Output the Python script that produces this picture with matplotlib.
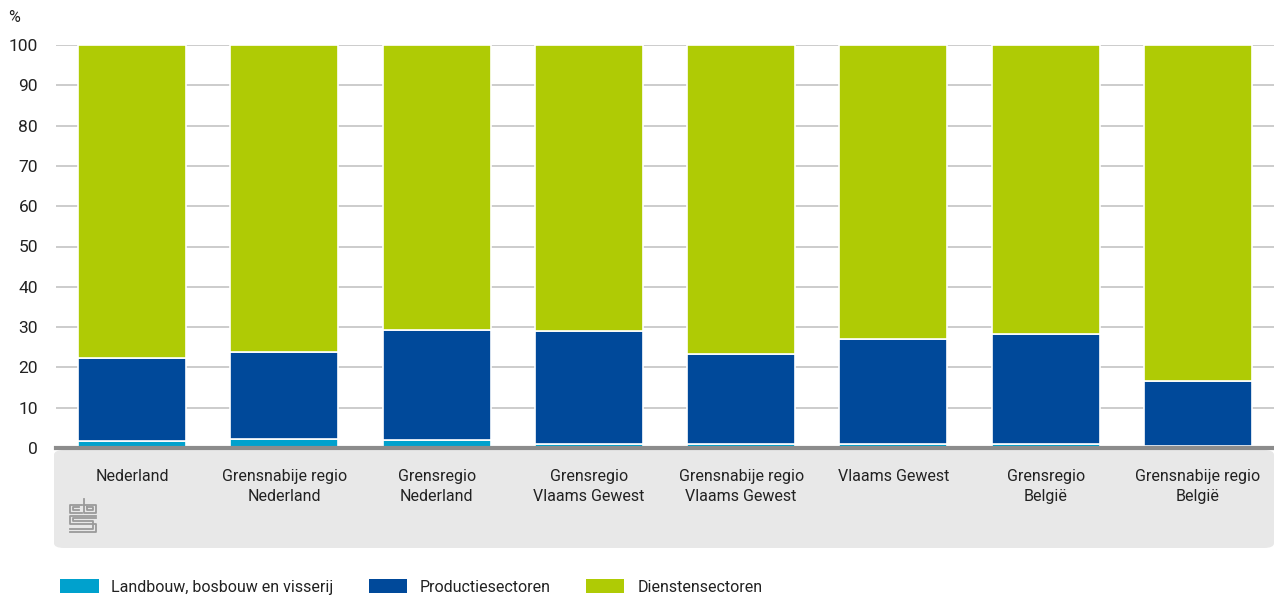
import matplotlib.pyplot as plt
from matplotlib.patches import FancyBboxPatch
import numpy as np

categories = ["Nederland", "Grensnabije regio\nNederland", "Grensregio\nNederland",
              "Grensregio\nVlaams Gewest", "Grensnabije regio\nVlaams Gewest",
              "Vlaams Gewest", "Grensregio\nBelgië", "Grensnabije regio\nBelgië"]
landbouw = [1.7, 2.2, 2.1, 0.9, 0.9, 0.9, 0.9, 0.4]
productie = [20.7, 21.5, 27.3, 28.1, 22.4, 26.1, 27.5, 16.3]
diensten = [100 - a - b for a, b in zip(landbouw, productie)]
series_names = ["Landbouw, bosbouw en visserij", "Productiesectoren", "Dienstensectoren"]
colors = ["#00a1cd", "#00499a", "#afcb05"]
yticks = [0, 10, 20, 30, 40, 50, 60, 70, 80, 90, 100]

plt.rcParams['font.family'] = ['Roboto', 'DejaVu Sans']
W, H = 1274, 596
fig = plt.figure(figsize=(W / 100, H / 100), dpi=100)

# gray label band
band = FancyBboxPatch((54 / W, (H - 548) / H), (1274 - 54) / W, (548 - 450) / H,
                      boxstyle="round,pad=0,rounding_size=0.008", transform=fig.transFigure,
                      facecolor="#e8e8e8", edgecolor="none", zorder=-5)
fig.patches.append(band)

ax = fig.add_axes([56 / W, (H - 448) / H, (1274 - 56) / W, (448 - 45) / H])
ax.set_facecolor("none")
x = np.arange(len(categories))
bottom = np.zeros(len(categories))
for vals, col, name in zip([landbouw, productie, diensten], colors, series_names):
    ax.bar(x, vals, bottom=bottom, width=0.71, color=col, edgecolor="white",
           linewidth=1.2, label=name, zorder=3)
    bottom += np.array(vals)

ax.set_xlim(-0.5, len(categories) - 0.5)
ax.set_ylim(0, 100)
ax.set_yticks(yticks)
ax.set_yticklabels([str(t) for t in yticks], fontsize=12.5, color="#222222")
ax.yaxis.grid(True, color="#c4c4c4", linewidth=1.2, zorder=0)
ax.tick_params(axis='y', length=0, pad=13)
ax.set_xticks(x)
ax.set_xticklabels(categories, fontsize=11.5, color="#222222", linespacing=1.45)
ax.tick_params(axis='x', length=0, pad=15)
for s in ["top", "right", "left"]:
    ax.spines[s].set_visible(False)
ax.spines["bottom"].set_color("#8c8c8c")
ax.spines["bottom"].set_linewidth(3)
ax.spines["bottom"].set_zorder(5)

fig.text(8 / W, (H - 17) / H, "%", fontsize=11.5, color="#222222", va="center")

# simple cbs logo
lax = fig.add_axes([69 / W, (H - 533) / H, 28 / W, 35 / H])
lax.set_xlim(0, 10)
lax.set_ylim(0, 13)
lax.axis("off")
lc = "#9a9a9a"
lw = 1.3
lax.plot([4.5, 0.5, 0.5, 4.5], [10.5, 10.5, 7.5, 7.5], color=lc, lw=lw)
lax.plot([3.5, 1.5, 1.5, 3.5], [9.5, 9.5, 8.5, 8.5], color=lc, lw=lw)
lax.plot([5.5, 5.5, 9.5, 9.5, 5.5], [12.5, 7.5, 7.5, 10.5, 10.5], color=lc, lw=lw)
lax.plot([6.5, 6.5, 8.5, 8.5, 6.5], [9.5, 8.5, 8.5, 9.5, 9.5], color=lc, lw=lw)
lax.plot([9.5, 0.5, 0.5, 9.5, 9.5, 0.5], [6.5, 6.5, 3.5, 3.5, 0.5, 0.5], color=lc, lw=lw)
lax.plot([9.5, 1.5, 1.5, 8.5, 8.5, 0.5], [5.5, 5.5, 4.5, 4.5, 1.5, 1.5], color=lc, lw=lw)

handles, labels = ax.get_legend_handles_labels()
leg = fig.legend(handles, labels, loc="center left", bbox_to_anchor=(46 / W, (H - 587) / H),
                 ncol=3, frameon=False, fontsize=11.5, handlelength=2.4, handleheight=1.0,
                 columnspacing=2.2, handletextpad=0.8)
for t in leg.get_texts():
    t.set_color("#222222")
for h in leg.legend_handles:
    h.set_edgecolor("none")

fig.savefig("out.png", dpi=100)
